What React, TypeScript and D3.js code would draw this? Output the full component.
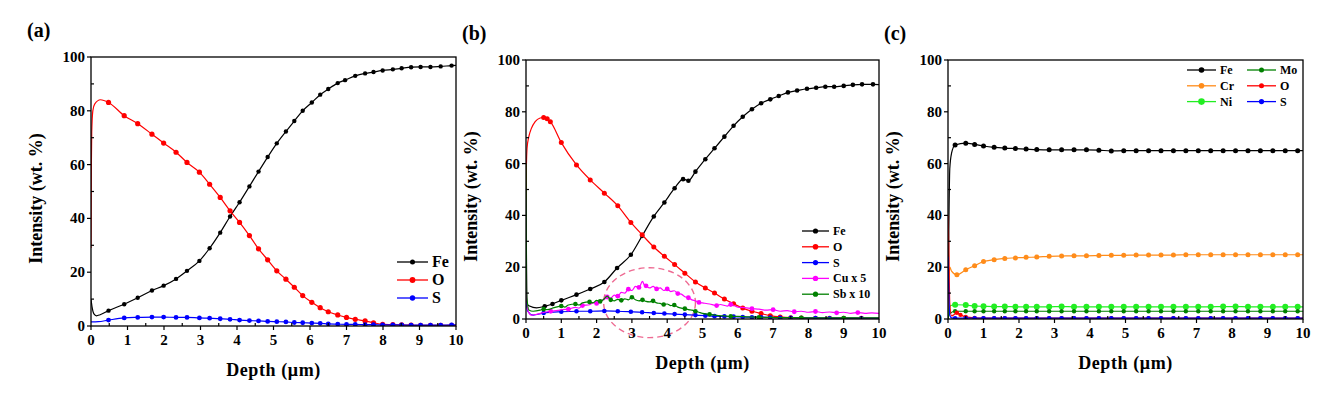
import { useRef, useEffect } from 'react';
import * as d3 from 'd3';

type Pt = [number, number];

// ---- data (depth in µm, intensity in wt.%) ----

// panel (a)
const feA: Pt[] = [[0, 10], [0.03, 7], [0.08, 4.5], [0.15, 3.8], [0.25, 4.2], [0.48, 5.7], [0.91, 8.1], [1.28, 10.5], [1.67, 13.2], [1.99, 15], [2.33, 17.5], [2.63, 20.5], [2.97, 24.2], [3.25, 28.9], [3.54, 34.7], [3.81, 40.7], [4.07, 46], [4.34, 51.9], [4.59, 57.4], [4.84, 62.8], [5.09, 67.9], [5.34, 72.3], [5.57, 76.2], [5.8, 80], [6.05, 83.1], [6.28, 86], [6.5, 88.1], [6.76, 90.3], [6.96, 91.4], [7.24, 93], [7.51, 93.9], [7.74, 94.4], [7.99, 95], [8.27, 95.4], [8.51, 95.8], [8.77, 96.2], [9.03, 96.3], [9.3, 96.3], [9.58, 96.5], [9.88, 96.8], [10, 96.9]];
const oA: Pt[] = [[0, 29], [0.01, 60], [0.02, 72], [0.05, 80], [0.1, 82.5], [0.26, 84.1], [0.48, 83.1], [0.91, 78.2], [1.28, 75.2], [1.67, 71.3], [1.99, 68], [2.33, 64.6], [2.63, 60.8], [2.97, 57.2], [3.25, 52.7], [3.54, 47.8], [3.81, 42.8], [4.07, 38.5], [4.34, 33.6], [4.59, 28.7], [4.84, 24.6], [5.09, 20.5], [5.34, 17.4], [5.57, 14.4], [5.8, 11.3], [6.05, 8.8], [6.28, 6.8], [6.5, 5.3], [6.76, 4.1], [7.0, 3.2], [7.24, 2.5], [7.51, 1.9], [7.74, 1.2], [7.99, 0.6], [8.27, 0.5], [8.51, 0.4], [8.77, 0.3], [9.03, 0.2], [9.3, 0.2], [9.58, 0.2], [9.88, 0.2], [10, 0.2]];
const sA: Pt[] = [[0, 1.5], [0.2, 1.6], [0.48, 2.2], [0.91, 3.0], [1.28, 3.2], [1.67, 3.3], [1.99, 3.3], [2.33, 3.2], [2.63, 3.2], [2.97, 3.0], [3.25, 2.9], [3.54, 2.7], [3.81, 2.5], [4.07, 2.2], [4.34, 2.0], [4.59, 1.9], [4.84, 1.7], [5.09, 1.6], [5.34, 1.5], [5.57, 1.3], [5.8, 1.2], [6.05, 1.1], [6.28, 1.0], [6.5, 0.8], [6.76, 0.7], [7.0, 0.6], [7.24, 0.6], [7.51, 0.5], [7.74, 0.5], [7.99, 0.4], [8.27, 0.4], [8.51, 0.4], [8.77, 0.3], [9.03, 0.3], [9.3, 0.3], [9.58, 0.3], [9.88, 0.4], [10, 0.4]];

// panel (b)
const feB: Pt[] = [[0, 10], [0.02, 6], [0.1, 5], [0.3, 4.3], [0.53, 4.9], [0.75, 5.8], [1.0, 7.2], [1.43, 9.4], [1.82, 11.6], [2.22, 14.3], [2.58, 19.7], [2.97, 24.8], [3.29, 32.1], [3.62, 39.6], [3.92, 45], [4.21, 50.5], [4.45, 54], [4.6, 53.4], [4.8, 56.9], [5.08, 61.7], [5.34, 65.9], [5.62, 70.4], [5.88, 74.6], [6.14, 78.1], [6.4, 81], [6.66, 83.3], [6.92, 84.8], [7.16, 86.1], [7.42, 87.5], [7.68, 88.2], [7.96, 88.9], [8.22, 89.3], [8.48, 89.7], [8.73, 89.7], [9.0, 90], [9.26, 90.4], [9.52, 90.6], [9.83, 90.6], [10, 90.5]];
const oB: Pt[] = [[0, 30], [0.01, 58], [0.03, 66], [0.08, 70.4], [0.15, 73.5], [0.26, 76.2], [0.4, 77.6], [0.5, 77.8], [0.6, 77.3], [0.69, 76.2], [1.0, 68.1], [1.43, 59.5], [1.82, 53.7], [2.22, 48.6], [2.6, 43.7], [2.97, 37.3], [3.29, 32.5], [3.62, 27.8], [3.92, 24.2], [4.21, 21], [4.5, 17.7], [4.8, 14.3], [5.08, 12], [5.34, 10], [5.62, 7.7], [5.88, 5.9], [6.14, 4.2], [6.4, 3], [6.66, 2.1], [6.92, 1.3], [7.2, 0.8], [7.5, 0.5], [7.8, 0.4], [8.2, 0.3], [8.6, 0.3], [9.0, 0.3], [9.5, 0.3], [10, 0.3]];
const sB: Pt[] = [[0, 6.5], [0.05, 3], [0.2, 1.5], [0.5, 2.3], [1.0, 2.8], [1.43, 3.0], [1.82, 3.0], [2.22, 3.1], [2.6, 3.0], [2.97, 2.8], [3.29, 2.6], [3.62, 2.3], [3.92, 2.1], [4.21, 1.9], [4.5, 1.7], [4.8, 1.5], [5.08, 1.3], [5.34, 1.1], [5.62, 1.0], [5.88, 0.9], [6.14, 0.8], [6.4, 0.7], [6.66, 0.7], [6.92, 0.6], [7.2, 0.5], [7.5, 0.5], [7.8, 0.4], [8.2, 0.4], [8.6, 0.3], [9.0, 0.3], [9.5, 0.3], [10, 0.3]];
const cuB: Pt[] = [[0, 46], [0.02, 10], [0.06, 3], [0.15, 1.5], [0.3, 1.8], [0.5, 2.5], [0.7, 3.0], [0.9, 3.3], [1.0, 3.6], [1.2, 3.8], [1.4, 4.5], [1.5, 4.2], [1.6, 5.2], [1.8, 5.5], [1.9, 6.3], [2.0, 6.0], [2.1, 7.0], [2.2, 7.4], [2.3, 8.5], [2.4, 8.0], [2.5, 9.2], [2.6, 8.8], [2.7, 10.3], [2.8, 10.0], [2.9, 11.5], [3.0, 11.0], [3.1, 12.6], [3.2, 12.2], [3.3, 14.5], [3.35, 13.2], [3.4, 12.8], [3.5, 12.0], [3.6, 12.6], [3.7, 11.6], [3.8, 12.0], [3.9, 11.0], [4.0, 11.6], [4.1, 10.6], [4.2, 10.9], [4.3, 9.8], [4.4, 9.6], [4.5, 8.6], [4.6, 8.2], [4.7, 7.4], [4.8, 7.0], [4.9, 6.4], [5.0, 6.2], [5.2, 5.8], [5.4, 5.2], [5.5, 5.6], [5.7, 5.0], [5.8, 5.6], [6.0, 4.6], [6.2, 4.4], [6.4, 4.0], [6.6, 3.8], [6.8, 3.4], [7.0, 3.6], [7.2, 3.0], [7.4, 3.2], [7.6, 2.8], [7.8, 3.0], [8.0, 2.6], [8.2, 2.9], [8.4, 2.5], [8.6, 2.7], [8.8, 2.4], [9.0, 2.6], [9.2, 2.2], [9.4, 2.5], [9.6, 2.2], [9.8, 2.4], [10, 2.2]];
const sbB: Pt[] = [[0, 60], [0.01, 30], [0.03, 8], [0.08, 3.5], [0.2, 3.0], [0.4, 3.4], [0.5, 3.8], [0.6, 3.6], [0.8, 4.4], [1.0, 5.0], [1.1, 4.6], [1.2, 5.4], [1.4, 5.8], [1.5, 5.4], [1.6, 6.2], [1.8, 6.6], [1.9, 6.2], [2.0, 7.2], [2.1, 6.8], [2.2, 7.6], [2.3, 8.8], [2.4, 7.4], [2.5, 7.0], [2.6, 7.6], [2.7, 7.2], [2.8, 7.8], [2.9, 7.4], [3.0, 8.4], [3.1, 7.4], [3.2, 7.0], [3.3, 7.4], [3.4, 6.8], [3.5, 6.6], [3.6, 7.0], [3.7, 6.2], [3.8, 6.0], [3.9, 5.6], [4.0, 5.8], [4.1, 5.2], [4.2, 5.4], [4.3, 4.6], [4.4, 4.2], [4.5, 4.0], [4.6, 3.6], [4.7, 3.4], [4.8, 3.0], [4.9, 2.6], [5.0, 2.2], [5.2, 1.8], [5.4, 1.4], [5.6, 1.2], [5.8, 1.0], [6.0, 1.0], [6.3, 0.8], [6.6, 0.7], [7.0, 0.6], [7.4, 0.5], [7.8, 0.5], [8.2, 0.4], [8.6, 0.4], [9.0, 0.4], [9.5, 0.4], [10, 0.4]];

// panel (c)
const flatDepths = [1.3, 1.6, 1.9, 2.2, 2.5, 2.85, 3.2, 3.55, 3.9, 4.25, 4.6, 4.95, 5.3, 5.65, 6.0, 6.35, 6.7, 7.05, 7.4, 7.75, 8.1, 8.45, 8.8, 9.15, 9.5, 9.85];
const feCTail = [66.3, 66.0, 65.8, 65.6, 65.4, 65.3, 65.3, 65.3, 65.3, 65.2, 64.9, 65.0, 65.0, 65.0, 65.0, 65.0, 65.0, 65.0, 65.0, 65.0, 65.0, 65.0, 65.0, 65.0, 65.0, 65.0];
const crCTail = [22.9, 23.4, 23.6, 23.8, 23.9, 24.2, 24.3, 24.4, 24.4, 24.5, 24.6, 24.6, 24.7, 24.7, 24.7, 24.7, 24.8, 24.8, 24.8, 24.8, 24.8, 24.8, 24.8, 24.8, 24.8, 24.8];
const niCTail = [4.8, 4.8, 4.7, 4.7, 4.7, 4.7, 4.8, 4.7, 4.7, 4.7, 4.7, 4.7, 4.7, 4.7, 4.7, 4.7, 4.7, 4.7, 4.7, 4.8, 4.8, 4.7, 4.7, 4.7, 4.7, 4.7];
const moCTail = [3.0, 3.0, 3.0, 3.0, 3.0, 3.0, 3.0, 3.0, 3.0, 3.0, 3.0, 3.0, 3.0, 3.0, 3.0, 3.0, 3.0, 3.0, 3.0, 3.0, 3.0, 3.0, 3.0, 3.0, 3.0, 3.0];
const oCTail = [0.3, 0.3, 0.3, 0.3, 0.3, 0.3, 0.3, 0.3, 0.3, 0.3, 0.3, 0.3, 0.3, 0.3, 0.3, 0.3, 0.3, 0.3, 0.3, 0.3, 0.3, 0.3, 0.3, 0.3, 0.3, 0.3];
const sCTail = [0.3, 0.3, 0.3, 0.3, 0.3, 0.3, 0.3, 0.3, 0.3, 0.3, 0.3, 0.3, 0.3, 0.3, 0.3, 0.3, 0.3, 0.3, 0.3, 0.3, 0.3, 0.3, 0.3, 0.3, 0.3, 0.3];

const zip = (xs: number[], ys: number[]): Pt[] => xs.map((x, i) => [x, ys[i]]);

const feC: Pt[] = [[0, 0], [0.02, 30], [0.05, 58], [0.1, 64], [0.2, 67.2], [0.5, 67.9], [0.75, 67.4], [1.0, 66.8], ...zip(flatDepths, feCTail), [10, 65.0]];
const crC: Pt[] = [[0, 0], [0.02, 12], [0.05, 20], [0.1, 18.5], [0.25, 17.1], [0.5, 19], [0.75, 20.6], [1.0, 22.2], ...zip(flatDepths, crCTail), [10, 24.8]];
const niC: Pt[] = [[0, 0], [0.03, 4], [0.08, 5.2], [0.2, 5.5], [0.5, 5.4], [0.75, 5.0], [1.0, 4.9], ...zip(flatDepths, niCTail), [10, 4.7]];
const moC: Pt[] = [[0, 0], [0.03, 1.5], [0.08, 2.4], [0.2, 3.0], [0.5, 3.0], [0.75, 3.0], [1.0, 3.0], ...zip(flatDepths, moCTail), [10, 3.0]];
const oC: Pt[] = [[0, 40], [0.02, 30], [0.05, 6], [0.1, 1.2], [0.15, 1.5], [0.25, 2.4], [0.35, 1.6], [0.5, 0.8], [0.75, 0.4], [1.0, 0.3], ...zip(flatDepths, oCTail), [10, 0.3]];
const sC: Pt[] = [[0, 24], [0.02, 12], [0.05, 1.5], [0.1, 0.4], [0.2, 0.3], [0.5, 0.3], [0.75, 0.3], [1.0, 0.3], ...zip(flatDepths, sCTail), [10, 0.3]];

const xTicks = [0, 1, 2, 3, 4, 5, 6, 7, 8, 9, 10];
const yTicks = [0, 20, 40, 60, 80, 100];

interface Series {
    name: string;
    pts: Pt[];
    color: string;
    r: number;
    every: number;     // marker on every n-th point
    from: number;      // no markers before this depth
}

interface Panel {
    label: string;
    left: number; right: number; top: number; bottom: number;
    series: Series[];
    legend: { x: number; y: number; dy: number; len: number; font: number; colGap: number; perCol: number };
}

const FONT = "'Liberation Serif', 'DejaVu Serif', 'Times New Roman', serif";

const panels: Panel[] = [
    {
        label: '(a)', left: 91, right: 456, top: 57, bottom: 326,
        series: [
            { name: 'Fe', pts: feA, color: '#000000', r: 2.2, every: 1, from: 0.4 },
            { name: 'O', pts: oA, color: '#ff0000', r: 2.6, every: 1, from: 0.4 },
            { name: 'S', pts: sA, color: '#0000ff', r: 2.4, every: 1, from: 0.4 },
        ],
        legend: { x: 397, y: 262, dy: 18, len: 31, font: 16, colGap: 0, perCol: 3 },
    },
    {
        label: '(b)', left: 526, right: 879, top: 60, bottom: 319,
        series: [
            { name: 'Fe', pts: feB, color: '#000000', r: 2.3, every: 1, from: 0.4 },
            { name: 'O', pts: oB, color: '#ff0000', r: 2.5, every: 1, from: 0.45 },
            { name: 'S', pts: sB, color: '#0000ff', r: 2.3, every: 1, from: 0.4 },
            { name: 'Cu x 5', pts: cuB, color: '#ff00ff', r: 2.4, every: 3, from: 0.4 },
            { name: 'Sb x 10', pts: sbB, color: '#008000', r: 2.3, every: 3, from: 0.4 },
        ],
        legend: { x: 802, y: 231, dy: 15.8, len: 27, font: 12, colGap: 0, perCol: 5 },
    },
    {
        label: '(c)', left: 948, right: 1303, top: 60, bottom: 319,
        series: [
            { name: 'Fe', pts: feC, color: '#000000', r: 2.5, every: 1, from: 0.15 },
            { name: 'Cr', pts: crC, color: '#ff8c1a', r: 2.5, every: 1, from: 0.2 },
            { name: 'Ni', pts: niC, color: '#22ee22', r: 3, every: 1, from: 0.15 },
            { name: 'Mo', pts: moC, color: '#008000', r: 2.2, every: 1, from: 0.15 },
            { name: 'O', pts: oC, color: '#ff0000', r: 2.2, every: 1, from: 0.2 },
            { name: 'S', pts: sC, color: '#0000ff', r: 2.3, every: 1, from: 0.15 },
        ],
        legend: { x: 1187, y: 70, dy: 15.8, len: 29, font: 12, colGap: 60, perCol: 3 },
    },
];

// dashed ellipse highlighting Cu/Sb enrichment in (b), data units
const highlight = { cx: 3.5, cy: 6.3, rx: 1.3, ry: 13.5, color: '#ee6a92' };

function PanelView({ p }: { p: Panel }) {
    const gRef = useRef<SVGGElement>(null);

    useEffect(() => {
        if (!gRef.current) return;
        const g = d3.select(gRef.current);
        g.selectAll('*').remove();

        const x = d3.scaleLinear().domain([0, 10]).range([p.left, p.right]);
        const y = d3.scaleLinear().domain([0, 100]).range([p.bottom, p.top]);

        const clipId = 'clip' + p.label.replace(/\W/g, '');
        g.append('clipPath').attr('id', clipId)
            .append('rect')
            .attr('x', p.left).attr('y', p.top - 2)
            .attr('width', p.right - p.left).attr('height', p.bottom - p.top + 2);

        // dashed highlight ellipse (only panel b)
        if (p.label === '(b)') {
            g.append('ellipse')
                .attr('cx', x(highlight.cx))
                .attr('cy', y(highlight.cy))
                .attr('rx', x(highlight.rx) - x(0))
                .attr('ry', y(0) - y(highlight.ry))
                .attr('fill', 'none')
                .attr('stroke', highlight.color)
                .attr('stroke-width', 1.4)
                .attr('stroke-dasharray', '6,4');
        }

        const line = d3.line<Pt>()
            .x(d => x(d[0]))
            .y(d => y(d[1]))
            .curve(d3.curveMonotoneX);

        const plot = g.append('g').attr('clip-path', `url(#${clipId})`);
        p.series.forEach(s => {
            plot.append('path')
                .attr('d', line(s.pts))
                .attr('fill', 'none')
                .attr('stroke', s.color)
                .attr('stroke-width', 1.2);
            const marks = s.pts.filter((d, i) => d[0] >= s.from && d[0] < 9.95 && i % s.every === 0);
            plot.selectAll(null)
                .data(marks)
                .enter()
                .append('circle')
                .attr('cx', d => x(d[0]))
                .attr('cy', d => y(d[1]))
                .attr('r', s.r)
                .attr('fill', s.color);
        });

        // frame
        g.append('rect')
            .attr('x', p.left).attr('y', p.top)
            .attr('width', p.right - p.left).attr('height', p.bottom - p.top)
            .attr('fill', 'none').attr('stroke', '#000').attr('stroke-width', 1.3);

        // y ticks: major outward, minor inward
        d3.range(0, 101, 10).forEach(v => {
            const major = v % 20 === 0;
            g.append('line')
                .attr('x1', major ? p.left - 4 : p.left)
                .attr('x2', major ? p.left : p.left + 3)
                .attr('y1', y(v)).attr('y2', y(v))
                .attr('stroke', '#000').attr('stroke-width', 1.2);
        });
        yTicks.forEach(v => {
            g.append('text')
                .attr('x', p.left - 6).attr('y', y(v) + 5)
                .attr('text-anchor', 'end')
                .attr('font-family', FONT).attr('font-weight', 'bold')
                .attr('font-size', 15)
                .text(v);
        });

        // x ticks: major outward, minor inward
        d3.range(0, 10.01, 0.5).forEach(v => {
            const major = Math.abs(v - Math.round(v)) < 1e-6;
            g.append('line')
                .attr('x1', x(v)).attr('x2', x(v))
                .attr('y1', p.bottom)
                .attr('y2', major ? p.bottom + 4 : p.bottom - 3)
                .attr('stroke', '#000').attr('stroke-width', 1.2);
        });
        xTicks.forEach(v => {
            g.append('text')
                .attr('x', x(v)).attr('y', p.bottom + 19)
                .attr('text-anchor', 'middle')
                .attr('font-family', FONT).attr('font-weight', 'bold')
                .attr('font-size', 15)
                .text(v);
        });

        // axis titles
        g.append('text')
            .attr('x', (p.left + p.right) / 2).attr('y', p.bottom + 50)
            .attr('text-anchor', 'middle')
            .attr('font-family', FONT).attr('font-weight', 'bold')
            .attr('font-size', 18)
            .attr('letter-spacing', 0.6)
            .text('Depth (μm)');
        g.append('text')
            .attr('transform', `translate(${p.left - 49},${(p.top + p.bottom) / 2 + 7}) rotate(-90)`)
            .attr('text-anchor', 'middle')
            .attr('font-family', FONT).attr('font-weight', 'bold')
            .attr('font-size', 18)
            .text('Intensity (wt. %)');

        // panel label
        g.append('text')
            .attr('x', p.left - 64).attr('y', p.top - 20)
            .attr('font-family', FONT).attr('font-weight', 'bold')
            .attr('font-size', 20)
            .text(p.label);

        // legend
        const L = p.legend;
        p.series.forEach((s, k) => {
            const col = Math.floor(k / L.perCol);
            const row = k % L.perCol;
            const lx = L.x + col * L.colGap;
            const ly = L.y + row * L.dy;
            g.append('line')
                .attr('x1', lx).attr('x2', lx + L.len)
                .attr('y1', ly).attr('y2', ly)
                .attr('stroke', s.color).attr('stroke-width', 1.3);
            g.append('circle')
                .attr('cx', lx + L.len / 2).attr('cy', ly)
                .attr('r', s.r + 0.3).attr('fill', s.color);
            g.append('text')
                .attr('x', lx + L.len + 4).attr('y', ly + L.font * 0.33)
                .attr('font-family', FONT).attr('font-weight', 'bold')
                .attr('font-size', L.font)
                .text(s.name);
        });
    }, [p]);

    return <g ref={gRef} />;
}

export default function App() {
    return (
        <div style={{ position: 'absolute', left: 0, top: 0 }}>
            <svg width={1338} height={393} style={{ display: 'block', background: '#fff' }}>
                {panels.map(p => <PanelView key={p.label} p={p} />)}
            </svg>
        </div>
    );
}
